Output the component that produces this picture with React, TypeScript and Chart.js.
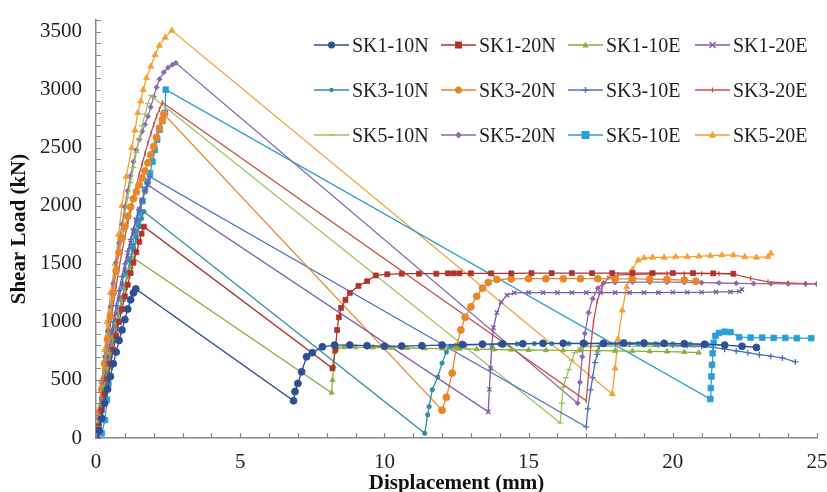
import React, { useEffect, useRef } from 'react';
import { Chart, registerables } from 'chart.js';

Chart.register(...registerables);

// ---------- data (displacement mm, shear load kN) ----------
const X_LABELS = [0, 5, 10, 15, 20, 25];
const Y_LABELS = [0, 500, 1000, 1500, 2000, 2500, 3000, 3500];

const SK1_10N: [number, number][] = [[0,0],[0.1,60],[0.2,170],[0.3,300],[0.4,420],[0.5,530],[0.6,640],[0.7,740],[0.8,840],[0.9,930],[1.0,1020],[1.1,1110],[1.2,1190],[1.3,1250],[1.38,1284],[6.85,320],[6.9,400],[7.0,470],[7.13,570],[7.3,700],[7.5,735],[7.85,785],[8.27,800],[8.8,800],[9.4,795],[10.0,790],[10.6,792],[11.3,795],[12.0,800],[12.7,805],[13.4,808],[14.1,810],[14.8,812],[15.5,815],[16.2,815],[16.9,815],[17.6,816],[18.3,818],[19.0,818],[19.7,815],[20.4,812],[21.1,808],[21.8,800],[22.4,790],[22.9,780]];
const SK1_20N: [number, number][] = [[0,0],[0.1,100],[0.2,240],[0.3,380],[0.4,510],[0.5,640],[0.6,760],[0.7,880],[0.8,1000],[0.9,1110],[1.0,1220],[1.1,1320],[1.2,1420],[1.3,1510],[1.4,1600],[1.5,1690],[1.58,1760],[1.66,1820],[8.2,600],[8.3,760],[8.36,930],[8.42,1040],[8.5,1120],[8.65,1190],[8.8,1250],[9.1,1310],[9.4,1350],[9.7,1400],[10.1,1410],[10.6,1415],[11.2,1415],[11.8,1415],[12.2,1418],[12.4,1418],[12.6,1418],[13.0,1418],[13.7,1418],[14.4,1418],[15.1,1420],[15.8,1420],[16.5,1420],[17.2,1420],[17.9,1420],[18.6,1420],[19.3,1420],[20.0,1420],[20.7,1420],[21.4,1418],[22.1,1415]];
const SK1_10E: [number, number][] = [[0,0],[0.1,140],[0.2,300],[0.3,450],[0.4,600],[0.5,740],[0.6,870],[0.7,990],[0.8,1100],[0.9,1200],[1.0,1300],[1.1,1390],[1.2,1470],[1.3,1550],[8.17,390],[8.2,500],[8.24,620],[8.27,740],[8.37,780],[8.6,782],[9.0,782],[9.6,780],[10.2,778],[10.8,775],[11.4,772],[12.0,770],[12.6,768],[13.2,765],[13.8,762],[14.4,760],[15.0,758],[15.6,756],[16.2,755],[16.8,753],[17.4,752],[18.0,750],[18.6,748],[19.2,746],[19.8,744],[20.4,740],[20.9,735]];
const SK1_20E: [number, number][] = [[0,0],[0.1,150],[0.2,320],[0.3,480],[0.4,640],[0.5,790],[0.6,930],[0.7,1070],[0.8,1200],[0.9,1330],[1.0,1450],[1.1,1570],[1.2,1680],[1.3,1780],[1.4,1880],[1.5,1970],[1.6,2050],[1.7,2120],[1.8,2180],[13.6,225],[13.64,420],[13.68,600],[13.72,780],[13.78,950],[13.9,1080],[14.05,1170],[14.25,1230],[14.5,1250],[15.0,1252],[15.5,1252],[16.0,1252],[16.5,1252],[17.0,1252],[17.5,1252],[18.0,1252],[18.5,1252],[19.0,1252],[19.5,1252],[20.0,1255],[20.5,1255],[21.0,1255],[21.5,1258],[22.0,1258],[22.3,1262],[22.4,1280]];
const SK3_10N: [number, number][] = [[0,0],[0.1,120],[0.2,270],[0.3,420],[0.4,560],[0.5,700],[0.6,830],[0.7,960],[0.8,1080],[0.9,1200],[1.0,1310],[1.1,1420],[1.2,1530],[1.3,1630],[1.4,1730],[1.5,1820],[1.58,1890],[1.66,1950],[11.4,40],[11.5,200],[11.55,270],[11.66,415],[11.85,525],[12.0,645],[12.15,740],[12.3,790],[12.8,800],[13.4,805],[14.0,808],[14.6,810],[15.2,812],[15.8,812],[16.4,812],[17.0,812],[17.6,812],[18.2,812],[18.8,812],[19.4,810],[20.0,810],[20.6,808],[21.2,805],[21.8,800]];
const SK3_20N: [number, number][] = [[0,0],[0.1,200],[0.2,420],[0.3,640],[0.4,850],[0.5,1050],[0.6,1250],[0.7,1440],[0.8,1600],[0.9,1720],[1.0,1820],[1.1,1910],[1.2,1990],[1.3,2060],[1.4,2120],[1.5,2180],[1.6,2240],[1.7,2300],[1.8,2370],[1.9,2440],[2.0,2510],[2.1,2590],[2.2,2670],[2.3,2740],[2.35,2790],[12.0,240],[12.15,350],[12.35,560],[12.5,790],[12.65,930],[12.8,1040],[13.0,1130],[13.2,1220],[13.4,1290],[13.6,1340],[13.9,1365],[14.4,1370],[15.0,1372],[15.6,1372],[16.2,1372],[16.8,1372],[17.4,1372],[18.0,1370],[18.6,1370],[19.2,1368],[19.8,1365],[20.4,1360],[20.8,1350]];
const SK3_10E: [number, number][] = [[0,0],[0.1,170],[0.2,350],[0.3,520],[0.4,690],[0.5,850],[0.6,1000],[0.7,1140],[0.8,1270],[0.9,1390],[1.0,1500],[1.1,1610],[1.2,1710],[1.3,1800],[1.4,1890],[1.5,1970],[1.6,2050],[1.7,2130],[1.8,2200],[1.87,2250],[17.0,95],[17.05,250],[17.15,415],[17.22,520],[17.3,650],[17.38,720],[17.45,790],[17.6,805],[18.0,808],[18.5,808],[19.0,806],[19.5,804],[20.0,800],[20.5,796],[21.0,790],[21.4,780],[21.8,765],[22.2,750],[22.6,735],[23.0,718],[23.4,705],[23.8,690],[24.25,655]];
const SK3_20E: [number, number][] = [[0,0],[0.1,200],[0.2,410],[0.3,610],[0.4,800],[0.5,980],[0.6,1150],[0.7,1310],[0.8,1460],[0.9,1600],[1.0,1730],[1.1,1850],[1.2,1960],[1.3,2070],[1.4,2170],[1.5,2270],[1.6,2360],[1.7,2450],[1.8,2540],[1.9,2620],[2.0,2700],[2.1,2770],[2.2,2830],[2.3,2890],[17.0,320],[17.08,550],[17.16,800],[17.25,1000],[17.38,1180],[17.55,1300],[17.75,1380],[18.1,1405],[18.6,1410],[19.2,1412],[19.8,1414],[20.4,1415],[21.0,1415],[21.6,1415],[22.1,1412],[22.7,1375],[23.3,1345],[24.0,1335],[24.6,1330],[25.0,1325]];
const SK5_10N: [number, number][] = [[0,0],[0.1,220],[0.2,450],[0.3,670],[0.4,880],[0.5,1080],[0.6,1270],[0.7,1450],[0.8,1620],[0.9,1780],[1.0,1930],[1.1,2070],[1.2,2200],[1.3,2330],[1.4,2460],[1.5,2580],[1.6,2690],[1.7,2790],[1.8,2880],[1.9,2950],[16.1,130],[16.15,300],[16.2,440],[16.3,520],[16.4,590],[16.5,670],[16.6,735],[16.8,780],[17.2,790],[17.8,792],[18.4,792],[19.0,790],[19.6,790],[20.2,788],[20.8,785]];
const SK5_20N: [number, number][] = [[0,0],[0.1,230],[0.2,470],[0.3,700],[0.4,920],[0.5,1130],[0.6,1330],[0.7,1510],[0.8,1680],[0.9,1840],[1.0,1990],[1.1,2130],[1.2,2260],[1.3,2380],[1.4,2480],[1.5,2570],[1.6,2640],[1.7,2700],[1.8,2770],[1.9,2850],[2.0,2940],[2.1,3020],[2.2,3090],[2.35,3150],[2.5,3190],[2.65,3215],[2.77,3230],[16.7,300],[16.78,480],[16.86,700],[16.95,900],[17.08,1080],[17.22,1200],[17.4,1290],[17.6,1335],[18.0,1340],[18.6,1342],[19.2,1342],[19.8,1342],[20.4,1340],[21.0,1338],[21.6,1335],[22.2,1332],[22.8,1330],[23.4,1330],[24.0,1328],[24.6,1328],[25.0,1328]];
const SK5_10E: [number, number][] = [[0,0],[0.2,40],[0.31,155],[0.38,330],[0.43,470],[0.48,615],[0.54,760],[0.6,910],[0.7,1000],[0.83,1100],[0.92,1200],[1.0,1300],[1.09,1420],[1.18,1535],[1.27,1650],[1.35,1770],[1.44,1860],[1.52,1940],[1.61,2040],[1.7,2140],[1.78,2210],[1.87,2280],[1.96,2380],[2.04,2480],[2.12,2570],[2.2,2655],[2.3,2730],[2.39,2800],[2.42,3000],[21.3,336],[21.32,430],[21.34,530],[21.36,630],[21.38,730],[21.42,820],[21.48,880],[21.6,905],[21.8,915],[22.0,912],[22.3,868],[22.7,865],[23.1,865],[23.5,862],[23.9,862],[24.3,860],[24.8,860]];
const SK5_20E: [number, number][] = [[0,0],[0.1,250],[0.2,500],[0.3,760],[0.38,1000],[0.5,1250],[0.66,1500],[0.78,1750],[0.9,2000],[1.05,2250],[1.24,2500],[1.35,2650],[1.45,2800],[1.55,2900],[1.64,3000],[1.75,3100],[1.9,3200],[2.05,3300],[2.2,3380],[2.4,3450],[2.63,3509],[17.9,380],[18.0,600],[18.1,850],[18.25,1100],[18.4,1300],[18.6,1450],[18.8,1530],[19.0,1550],[19.3,1555],[19.7,1555],[20.1,1560],[20.5,1560],[20.9,1565],[21.3,1570],[21.7,1575],[22.1,1575],[22.5,1560],[22.9,1555],[23.3,1560],[23.4,1590]];

// ---------- styling ----------
const FONT = "'Liberation Serif', 'Times New Roman', serif";
type Style = 'circle' | 'rect' | 'triangle' | 'crossRot' | 'cross' | 'rectRot' | 'line';
interface SeriesDef { label: string; data: [number, number][]; color: string; style: Style; r: number; rot?: number; }

const SERIES: SeriesDef[] = [
  { label: 'SK1-10N', data: SK1_10N, color: '#2F4F95', style: 'circle', r: 3.5 },
  { label: 'SK1-20N', data: SK1_20N, color: '#B0332E', style: 'rect', r: 3.5 },
  { label: 'SK1-10E', data: SK1_10E, color: '#8AAE3E', style: 'triangle', r: 3 },
  { label: 'SK1-20E', data: SK1_20E, color: '#7B5BA6', style: 'crossRot', r: 3 },
  { label: 'SK3-10N', data: SK3_10N, color: '#2E8FA3', style: 'circle', r: 2.2 },
  { label: 'SK3-20N', data: SK3_20N, color: '#E8862A', style: 'circle', r: 3.5 },
  { label: 'SK3-10E', data: SK3_10E, color: '#4A73BE', style: 'cross', r: 3 },
  { label: 'SK3-20E', data: SK3_20E, color: '#C9504A', style: 'line', r: 2.5, rot: 90 },
  { label: 'SK5-10N', data: SK5_10N, color: '#9EC25A', style: 'line', r: 3 },
  { label: 'SK5-20N', data: SK5_20N, color: '#8A6BB0', style: 'rectRot', r: 2.6 },
  { label: 'SK5-10E', data: SK5_10E, color: '#2A9FD6', style: 'rect', r: 4 },
  { label: 'SK5-20E', data: SK5_20E, color: '#F5A030', style: 'triangle', r: 3.5 },
];

const AXIS_COLOR = '#8a8a8a';
const TEXT_COLOR = '#1e1e1e';

function drawMarker(ctx: CanvasRenderingContext2D, s: SeriesDef, x: number, y: number) {
  const r = s.r;
  ctx.fillStyle = s.color;
  ctx.strokeStyle = s.color;
  ctx.lineWidth = 1.3;
  ctx.beginPath();
  switch (s.style) {
    case 'circle': ctx.arc(x, y, r, 0, Math.PI * 2); ctx.fill(); break;
    case 'rect': ctx.fillRect(x - r, y - r, 2 * r, 2 * r); break;
    case 'triangle': ctx.moveTo(x, y - r * 1.2); ctx.lineTo(x + r, y + r * 0.8); ctx.lineTo(x - r, y + r * 0.8); ctx.closePath(); ctx.fill(); break;
    case 'rectRot': ctx.moveTo(x, y - r * 1.3); ctx.lineTo(x + r * 1.3, y); ctx.lineTo(x, y + r * 1.3); ctx.lineTo(x - r * 1.3, y); ctx.closePath(); ctx.fill(); break;
    case 'crossRot': ctx.moveTo(x - r, y - r); ctx.lineTo(x + r, y + r); ctx.moveTo(x + r, y - r); ctx.lineTo(x - r, y + r); ctx.stroke(); break;
    case 'cross': ctx.moveTo(x - r, y); ctx.lineTo(x + r, y); ctx.moveTo(x, y - r); ctx.lineTo(x, y + r); ctx.stroke(); break;
    case 'line': if (s.rot === 90) { ctx.moveTo(x, y - r); ctx.lineTo(x, y + r); } else { ctx.moveTo(x - r, y); ctx.lineTo(x + r, y); } ctx.stroke(); break;
  }
}

function LegendItem({ s, left, top }: { s: SeriesDef; left: number; top: number }) {
  const ref = useRef<HTMLCanvasElement>(null);
  useEffect(() => {
    const c = ref.current; if (!c) return;
    const ctx = c.getContext('2d'); if (!ctx) return;
    ctx.clearRect(0, 0, c.width, c.height);
    ctx.strokeStyle = s.color; ctx.lineWidth = 1.3;
    ctx.beginPath(); ctx.moveTo(0, 11); ctx.lineTo(35, 11); ctx.stroke();
    drawMarker(ctx, s, 17.5, 11);
  }, [s]);
  return (
    <div style={{ position: 'absolute', left, top, height: 22, display: 'flex', alignItems: 'center', whiteSpace: 'nowrap' }}>
      <canvas ref={ref} width={36} height={22} style={{ display: 'block' }} />
      <span style={{ font: `20px ${FONT}`, color: TEXT_COLOR, marginLeft: 2, lineHeight: '22px' }}>{s.label}</span>
    </div>
  );
}

const innerTicks = {
  id: 'innerTicks',
  afterDatasetsDraw(chart: any) {
    const { ctx, chartArea, scales } = chart;
    const xs = scales.x, ys = scales.y;
    ctx.save();
    ctx.strokeStyle = AXIS_COLOR;
    ctx.lineWidth = 1.2;
    ctx.beginPath();
    xs.ticks.forEach((t: any) => {
      const px = Math.round(xs.getPixelForValue(t.value)) + 0.5;
      ctx.moveTo(px, chartArea.bottom); ctx.lineTo(px, chartArea.bottom - 5);
    });
    ys.ticks.forEach((t: any) => {
      const py = Math.round(ys.getPixelForValue(t.value)) + 0.5;
      ctx.moveTo(chartArea.left, py); ctx.lineTo(chartArea.left + 5, py);
    });
    ctx.stroke();
    ctx.restore();
  },
};

const hasLabel = (arr: number[], v: number) => arr.some((l) => Math.abs(l - v) < 1e-6);

export default function App() {
  const canvasRef = useRef<HTMLCanvasElement>(null);

  useEffect(() => {
    const canvas = canvasRef.current;
    if (!canvas) return;
    Chart.defaults.font.family = FONT;
    const chart = new Chart(canvas, {
      type: 'line',
      data: {
        datasets: SERIES.map((s) => ({
          label: s.label,
          data: s.data.map(([x, y]) => ({ x, y })),
          borderColor: s.color,
          backgroundColor: s.color,
          borderWidth: 1.3,
          pointStyle: s.style,
          pointRotation: s.rot || 0,
          pointRadius: s.r,
          pointBackgroundColor: s.color,
          pointBorderColor: s.color,
          pointBorderWidth: s.style === 'cross' || s.style === 'crossRot' || s.style === 'line' ? 1.3 : 0.8,
          tension: 0,
          fill: false,
        })),
      },
      options: {
        animation: false,
        responsive: false,
        maintainAspectRatio: false,
        layout: { padding: { top: 20, right: 10, left: 0, bottom: 0 } },
        plugins: { legend: { display: false }, tooltip: { enabled: false } },
        scales: {
          x: {
            type: 'linear', min: 0, max: 25,
            ticks: {
              stepSize: 1, autoSkip: false, maxRotation: 0, maxTicksLimit: 100,
              callback: (v: any) => (hasLabel(X_LABELS, Number(v)) ? String(v) : ''),
              font: { family: FONT, size: 21 }, color: TEXT_COLOR, padding: 12,
            },
            grid: { display: false, drawTicks: false },
            border: { display: true, color: AXIS_COLOR, width: 1.5 },
            title: { display: true, text: 'Displacement (mm)', color: '#111', font: { family: FONT, size: 21, weight: 'bold', lineHeight: 0.8 }, padding: { top: 0, bottom: 0 } },
            afterFit: (s: any) => { s.height = 54; s.paddingLeft = 0; s.paddingRight = 0; },
          },
          y: {
            type: 'linear', min: 0, max: 3600,
            ticks: {
              stepSize: 100, autoSkip: false, maxTicksLimit: 100,
              callback: (v: any) => (hasLabel(Y_LABELS, Number(v)) ? String(v) : ''),
              font: { family: FONT, size: 21 }, color: TEXT_COLOR, padding: 14,
            },
            grid: { display: false, drawTicks: false },
            border: { display: true, color: AXIS_COLOR, width: 1.5 },
            title: { display: true, text: 'Shear Load (kN)', color: '#111', font: { family: FONT, size: 21, weight: 'bold', lineHeight: 1.2 }, padding: { top: 7, bottom: 0 } },
            afterFit: (s: any) => { s.width = 96; s.paddingTop = 0; s.paddingBottom = 0; },
          },
        },
      } as any,
      plugins: [innerTicks],
    });
    return () => chart.destroy();
  }, []);

  return (
    <div style={{ position: 'absolute', left: 0, top: 0, width: 827, height: 492, background: '#fff' }}>
      <canvas ref={canvasRef} width={827} height={492} style={{ display: 'block', width: 827, height: 492 }} />
      {SERIES.map((s, i) => (
        <LegendItem key={s.label} s={s} left={314 + (i % 4) * 127} top={34 + Math.floor(i / 4) * 45} />
      ))}
    </div>
  );
}
